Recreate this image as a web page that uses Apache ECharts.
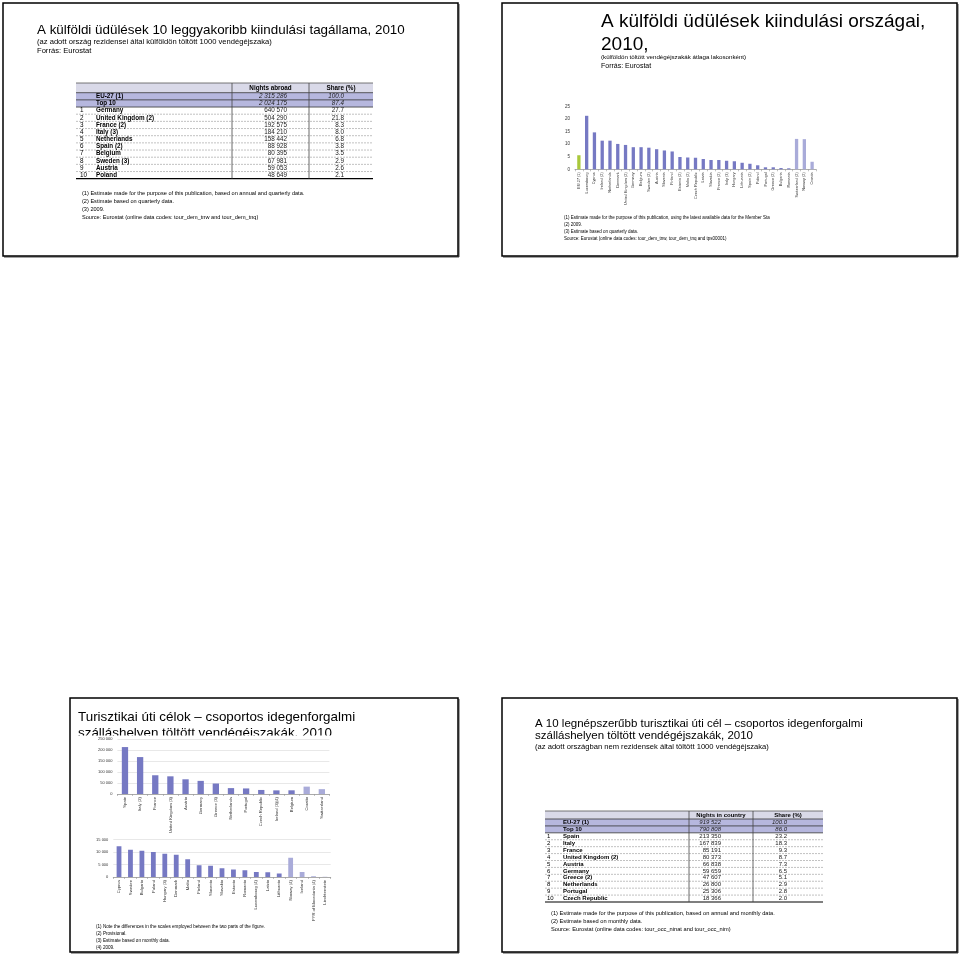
<!DOCTYPE html>
<html><head><meta charset="utf-8">
<script src="https://cdn.jsdelivr.net/npm/echarts@6.0.0/dist/echarts.min.js"></script>
<style>html,body{margin:0;padding:0;background:#fff}#c{width:960px;height:956px}</style>
</head><body><div id="c"></div>
<script>
// ---------- DATA ----------
// Top-left table: nights abroad by residents
const tlRanks = ['', '', '1', '2', '3', '4', '5', '6', '7', '8', '9', '10'];
const tlNames = ['EU-27 (1)', 'Top 10', 'Germany', 'United Kingdom (2)', 'France (2)', 'Italy (3)', 'Netherlands', 'Spain (2)', 'Belgium', 'Sweden (3)', 'Austria', 'Poland'];
const tlNights = ['2 315 286', '2 024 175', '640 570', '504 290', '192 575', '184 210', '158 442', '88 928', '80 395', '67 981', '59 053', '48 649'];
const tlShare = ['100.0', '87.4', '27.7', '21.8', '8.3', '8.0', '6.8', '3.8', '3.5', '2.9', '2.6', '2.1'];
const tlHeaders = ['Nights abroad', 'Share (%)'];
const tlNotes = ['(1) Estimate made for the purpose of this publication, based on annual and quarterly data.', '(2) Estimate based on quarterly data.', '(3) 2009.', 'Source: Eurostat (online data codes: tour_dem_tnw and tour_dem_tnq)'];

// Top-right chart: nights abroad per inhabitant
const trCats = ['EU-27 (1)', 'Luxembourg', 'Cyprus', 'Ireland (2)', 'Netherlands', 'Denmark', 'United Kingdom (2)', 'Germany', 'Belgium', 'Sweden (2)', 'Austria', 'Slovenia', 'Finland', 'Estonia (2)', 'Malta (2)', 'Czech Republic', 'Latvia', 'Slovakia', 'France (2)', 'Italy (3)', 'Hungary', 'Lithuania', 'Spain (2)', 'Poland', 'Portugal', 'Greece (2)', 'Bulgaria', 'Romania', 'Switzerland (2)', 'Norway (2)', 'Croatia'];
const trVals = [5.6, 21.3, 14.7, 11.4, 11.4, 10.1, 9.7, 8.8, 8.8, 8.6, 8.0, 7.5, 7.1, 4.9, 4.7, 4.6, 4.1, 3.7, 3.7, 3.4, 3.2, 2.6, 2.2, 1.6, 0.8, 0.8, 0.5, 0.4, 12.1, 12.0, 3.0];
const trNotes = ['(1) Estimate made for the purpose of this publication, using the latest available data for the Member Sta', '(2) 2009.', '(3) Estimate based on quarterly data.', 'Source: Eurostat (online data codes: tour_dem_tnw, tour_dem_tnq and tps00001)'];

// Bottom-left charts: nights spent by non-residents
const bl1Cats = ['Spain', 'Italy (2)', 'France', 'United Kingdom (3)', 'Austria', 'Germany', 'Greece (3)', 'Netherlands', 'Portugal', 'Czech Republic', 'Ireland (3)(4)', 'Belgium', 'Croatia', 'Switzerland'];
const bl1Vals = [213350, 167839, 85191, 80373, 66838, 59659, 47607, 26800, 25306, 18366, 16500, 16800, 33500, 22000];
const bl2Cats = ['Cyprus', 'Sweden', 'Bulgaria', 'Poland', 'Hungary (3)', 'Denmark', 'Malta', 'Finland', 'Slovenia', 'Slovakia', 'Estonia', 'Romania', 'Luxembourg (4)', 'Latvia', 'Lithuania', 'Norway (4)', 'Iceland', 'FYR of Macedonia (4)', 'Liechtenstein'];
const bl2Vals = [12300, 10900, 10500, 10000, 9300, 8900, 7100, 4700, 4500, 3500, 3000, 2700, 2000, 1900, 1400, 7700, 2000, 300, 80];
const blNotes = ['(1) Note the differences in the scales employed between the two parts of the figure.', '(2) Provisional.', '(3) Estimate based on monthly data.', '(4) 2009.'];

// Bottom-right table: top 10 destinations
const brRanks = ['', '', '1', '2', '3', '4', '5', '6', '7', '8', '9', '10'];
const brNames = ['EU-27 (1)', 'Top 10', 'Spain', 'Italy', 'France', 'United Kingdom (2)', 'Austria', 'Germany', 'Greece (2)', 'Netherlands', 'Portugal', 'Czech Republic'];
const brNights = ['919 522', '790 808', '213 350', '167 839', '85 191', '80 373', '66 838', '59 659', '47 607', '26 800', '25 306', '18 366'];
const brShare = ['100.0', '86.0', '23.2', '18.3', '9.3', '8.7', '7.3', '6.5', '5.1', '2.9', '2.8', '2.0'];
const brHeaders = ['Nights in country', 'Share (%)'];
const brNotes = ['(1) Estimate made for the purpose of this publication, based on annual and monthly data.', '(2) Estimate based on monthly data.', 'Source: Eurostat (online data codes: tour_occ_ninat and tour_occ_nim)'];

// ---------- RENDER ----------
const FF = '"Liberation Sans", Arial, sans-serif';
const G = [];
function txt(x, y, s, size, opts) {
  opts = opts || {};
  G.push({type: 'text', x: x, y: y, z: opts.z || 10, style: {
    text: s, font: (opts.style || '') + ' ' + (opts.weight || 'normal') + ' ' + size + 'px ' + FF,
    fill: opts.color || '#000', textAlign: opts.align || 'left', textVerticalAlign: 'middle',
    align: opts.align || 'left', verticalAlign: 'middle'}});
}
function rect(x, y, w, h, fill, stroke, lw, z) {
  G.push({type: 'rect', z: z || 1, shape: {x: x, y: y, width: w, height: h},
    style: {fill: fill || 'none', stroke: stroke || 'none', lineWidth: lw || 0}});
}
function line(x1, y1, x2, y2, color, lw, dash) {
  G.push({type: 'line', z: 5, shape: {x1: x1, y1: y1, x2: x2, y2: y2},
    style: {stroke: color, lineWidth: lw, lineDash: dash || null}});
}
function panel(x, y, w, h) {
  rect(x, y, w, h, null, '#000', 1.5, 20);
  line(x + w + 1, y + 1, x + w + 1, y + h + 1, '#444', 1);
  line(x + 1, y + h + 1, x + w + 1, y + h + 1, '#444', 1);
}
function table(c) {
  const n = c.names.length;
  const rowH = (c.bottom - c.rowTop) / n;
  rect(c.x0, c.top, c.x1 - c.x0, c.rowTop - c.top, '#d9d9e8');
  rect(c.x0, c.rowTop, c.x1 - c.x0, rowH * 2, '#b6b7de');
  line(c.x0, c.top, c.x1, c.top, '#555', 0.8);
  txt((c.c1 + c.c2) / 2, (c.top + c.rowTop) / 2, c.headers[0], c.fs, {weight: 'bold', align: 'center'});
  txt((c.c2 + c.x1) / 2, (c.top + c.rowTop) / 2, c.headers[1], c.fs, {weight: 'bold', align: 'center'});
  for (let i = 0; i < n; i++) {
    const y0 = c.rowTop + i * rowH, yc = y0 + rowH / 2;
    if (i < 3) line(c.x0, y0, c.x1, y0, '#333', 0.8);
    else line(c.x0, y0, c.x1, y0, '#999', 0.6, [2, 1]);
    if (c.ranks[i]) txt(c.rankX, yc, c.ranks[i], c.fs);
    txt(c.nameX, yc, c.names[i], c.fs, {weight: 'bold'});
    const it = i < 2 ? 'italic' : '';
    txt(c.valX, yc, c.vals[i], c.fs, {align: 'right', style: it, color: '#222'});
    txt(c.shareX, yc, c.shares[i], c.fs, {align: 'right', style: it, color: '#222'});
  }
  line(c.x0, c.bottom, c.x1, c.bottom, '#000', 1.2);
  line(c.c1, c.top, c.c1, c.bottom, '#444', 0.8);
  line(c.c2, c.top, c.c2, c.bottom, '#444', 0.8);
}

// panels
panel(3, 3, 455, 253);
panel(502, 3, 455, 253);
panel(70, 698, 388, 254);
panel(502, 698, 455, 254);

// titles
txt(37, 30, 'A külföldi üdülések 10 leggyakoribb kiindulási tagállama, 2010', 13.4);
txt(37, 42, '(az adott ország rezidensei által külföldön töltött 1000 vendégéjszaka)', 7.6);
txt(37, 51, 'Forrás: Eurostat', 7.6);

txt(601, 22, 'A külföldi üdülések kiindulási országai,', 19);
txt(601, 45, '2010,', 19);
txt(601, 57, '(külföldön töltött vendégéjszakák átlaga lakosonként)', 6.2);
txt(601, 66, 'Forrás: Eurostat', 7);

txt(78, 717, 'Turisztikai úti célok – csoportos idegenforgalmi', 13.4);
txt(78, 733, 'szálláshelyen töltött vendégéjszakák, 2010', 13.4, {z: 7});
rect(72, 735.5, 384, 100, '#fff', null, 0, 8);

txt(535, 724, 'A 10 legnépszerűbb turisztikai úti cél – csoportos idegenforgalmi', 11.5);
txt(535, 736, 'szálláshelyen töltött vendégéjszakák, 2010', 11.5);
txt(535, 747, '(az adott országban nem rezidensek által töltött 1000 vendégéjszaka)', 7.6);

// tables
table({x0: 76, x1: 373, c1: 232, c2: 309, top: 83, rowTop: 92.7, bottom: 178.7,
  names: tlNames, ranks: tlRanks, vals: tlNights, shares: tlShare, headers: tlHeaders,
  rankX: 80, nameX: 96, valX: 287, shareX: 344, fs: 6.3});
tlNotes.forEach((s, i) => txt(82, 193 + i * 8.3, s, 5.6));

table({x0: 545, x1: 823, c1: 689, c2: 753, top: 811, rowTop: 819, bottom: 902,
  names: brNames, ranks: brRanks, vals: brNights, shares: brShare, headers: brHeaders,
  rankX: 547, nameX: 563, valX: 721, shareX: 787, fs: 6});
brNotes.forEach((s, i) => txt(551, 913 + i * 8.3, s, 5.7));

trNotes.forEach((s, i) => txt(564, 218 + i * 7, s, 4.5));
blNotes.forEach((s, i) => txt(96, 927 + i * 7, s, 4.6));

const BLUE = '#7679c3', LIGHT = '#a9abd9', GREEN = '#a9c83b';
const spaceFmt = v => String(v).replace(/\B(?=(\d{3})+(?!\d))/g, ' ');

function xAx(gi, cats, fs) {
  return {type: 'category', gridIndex: gi, data: cats, z: 9,
    axisLine: {lineStyle: {color: '#999', width: 0.8}},
    axisTick: {show: true, length: 2, lineStyle: {color: '#999', width: 0.6}},
    axisLabel: {interval: 0, rotate: 90, fontSize: fs, fontFamily: FF, color: '#333', margin: 3}};
}
function yAx(gi, max, iv, fs, grid, fmt) {
  return {type: 'value', gridIndex: gi, min: 0, max: max, interval: iv, z: 9,
    axisLine: {show: false}, axisTick: {show: false},
    splitLine: {show: grid, lineStyle: {color: '#d9d9d9', width: 0.6}},
    axisLabel: {fontSize: fs, fontFamily: FF, color: '#333', margin: 5, formatter: fmt}};
}

const chart = echarts.init(document.getElementById('c'), null, {renderer: 'canvas'});
chart.setOption({
  animation: false,
  backgroundColor: '#fff',
  grid: [
    {left: 575, top: 106.5, width: 241, height: 62.8, outerBoundsMode: 'none', containLabel: false},
    {left: 117.4, top: 739, width: 212, height: 55, outerBoundsMode: 'none', containLabel: false},
    {left: 113.3, top: 839.5, width: 217.4, height: 37.5, outerBoundsMode: 'none', containLabel: false}
  ],
  xAxis: [xAx(0, trCats, 3.8), xAx(1, bl1Cats, 4.2), xAx(2, bl2Cats, 4.2)],
  yAxis: [yAx(0, 25, 5, 4.5, false), yAx(1, 250000, 50000, 4, true, spaceFmt), yAx(2, 15000, 5000, 4, true, spaceFmt)],
  series: [
    {type: 'bar', xAxisIndex: 0, yAxisIndex: 0, data: trVals, barWidth: 3.3, z: 12,
      itemStyle: {color: p => p.dataIndex === 0 ? GREEN : (p.dataIndex >= 28 ? LIGHT : BLUE)}},
    {type: 'bar', xAxisIndex: 1, yAxisIndex: 1, data: bl1Vals, barWidth: 6.3, z: 12,
      itemStyle: {color: p => p.dataIndex >= 12 ? LIGHT : BLUE}},
    {type: 'bar', xAxisIndex: 2, yAxisIndex: 2, data: bl2Vals, barWidth: 4.8, z: 12,
      itemStyle: {color: p => p.dataIndex >= 15 ? LIGHT : BLUE}}
  ],
  graphic: {elements: G}
});
</script></body></html>
